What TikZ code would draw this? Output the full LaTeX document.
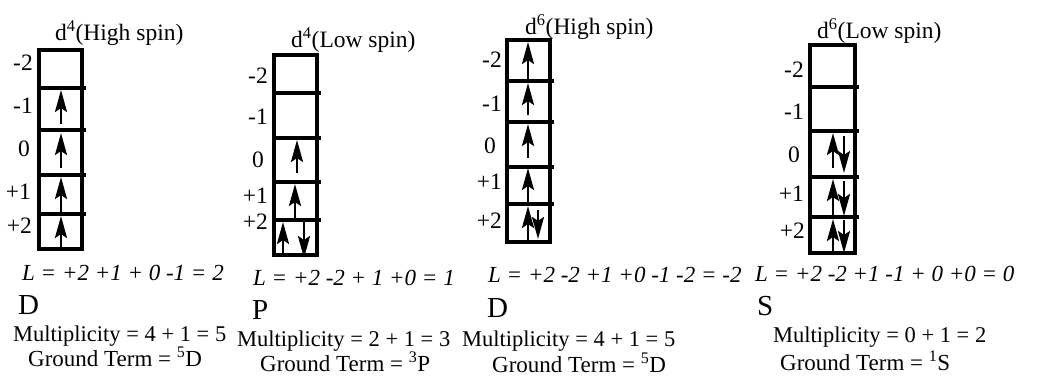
\documentclass[tikz,border=0pt]{standalone}
\usepackage{fontspec}
\setmainfont{Liberation Serif}
\usetikzlibrary{arrows.meta}
\tikzset{
  boxline/.style={line width=3.2pt},
  spin/.style={line width=2.8pt, -{Stealth[length=22pt,width=12pt,inset=4pt]}},
  txt/.style={anchor=base west, inner sep=0pt},
  ttl/.style={txt, font=\fontsize{23.5}{27}\selectfont},
  lbl/.style={anchor=base east, inner sep=0pt, font=\fontsize{23.5}{27}\selectfont},
  eqn/.style={txt, font=\fontsize{23}{26}\selectfont\itshape},
  term/.style={txt, font=\fontsize{29}{32}\selectfont},
  mult/.style={txt, font=\fontsize{22.5}{26}\selectfont},
  gterm/.style={txt, font=\fontsize{23}{26}\selectfont},
}
\begin{document}
\begin{tikzpicture}[x=1pt,y=-1pt]
\useasboundingbox (0,0) rectangle (1053,379);

% ---------- Box 1 ----------
\draw[boxline] (39,50) rectangle (82,249);
\foreach \y in {88,130,175,214} \draw[boxline] (37,\y) -- (86,\y);
\draw[spin] (61,124) -- (61,90);
\draw[spin] (61,168) -- (61,133);
\draw[spin] (61,214) -- (61,177);
\draw[spin] (61,249) -- (61,216);
\node[ttl] (t1) at (55,41) {d\textsuperscript{4}(High spin)};
\node[lbl] (a1) at (33,71) {-2};
\node[lbl] (a2) at (33,114) {-1};
\node[lbl] (a3) at (30,157) {0};
\node[lbl] (a4) at (31,200) {+1};
\node[lbl] (a5) at (32,234) {+2};
\node[eqn] (l1) at (22,281) {L = +2 +1 + 0 -1 = 2};
\node[term] (s1) at (18,315) {D};
\node[mult] (m1) at (13,342) {Multiplicity = 4 + 1 = 5};
\node[gterm] (g1) at (28,367) {Ground Term = \textsuperscript{5}D};

% ---------- Box 2 ----------
\draw[boxline] (274,55) rectangle (317,255);
\foreach \y in {93,138,182,220} \draw[boxline] (272,\y) -- (321,\y);
\draw[spin] (297,173) -- (297,140);
\draw[spin] (295,220) -- (295,184);
\draw[spin] (283,255) -- (283,222);
\draw[spin] (304,220) -- (304,258);
\node[ttl] (t2) at (291,48) {d\textsuperscript{4}(Low spin)};
\node[lbl] (b1) at (268,84) {-2};
\node[lbl] (b2) at (268,125) {-1};
\node[lbl] (b3) at (264,168) {0};
\node[lbl] (b4) at (268,204) {+1};
\node[lbl] (b5) at (268,230) {+2};
\node[eqn] (l2) at (253,286) {L = +2 -2 + 1 +0 = 1};
\node[term] (s2) at (252,320) {P};
\node[mult] (m2) at (237,347) {Multiplicity = 2 + 1 = 3};
\node[gterm] (g2) at (260,372) {Ground Term = \textsuperscript{3}P};

% ---------- Box 3 ----------
\draw[boxline] (507,40) rectangle (550,242);
\foreach \y in {81,122,167,204} \draw[boxline] (505,\y) -- (554,\y);
\draw[spin] (528,81) -- (528,42);
\draw[spin] (528,115) -- (528,83);
\draw[spin] (528,158) -- (528,124);
\draw[spin] (528,204) -- (528,168);
\draw[spin] (528,242) -- (528,206);
\draw[spin] (538,210) -- (538,239);
\node[ttl] (t3) at (525,35) {d\textsuperscript{6}(High spin)};
\node[lbl] (c1) at (502,68) {-2};
\node[lbl] (c2) at (502,112) {-1};
\node[lbl] (c3) at (496,154) {0};
\node[lbl] (c4) at (502,190) {+1};
\node[lbl] (c5) at (502,229) {+2};
\node[eqn] (l3) at (488,283) {L = +2 -2 +1 +0 -1 -2 = -2};
\node[term] (s3) at (487,318) {D};
\node[mult] (m3) at (462,347) {Multiplicity = 4 + 1 = 5};
\node[gterm] (g3) at (492,373) {Ground Term = \textsuperscript{5}D};

% ---------- Box 4 ----------
\draw[boxline] (810,45) rectangle (855,253);
\foreach \y in {87,131,177,217} \draw[boxline] (808,\y) -- (859,\y);
\draw[spin] (833,168) -- (833,133);
\draw[spin] (844,136) -- (844,173);
\draw[spin] (833,217) -- (833,179);
\draw[spin] (844,181) -- (844,216);
\draw[spin] (833,253) -- (833,219);
\draw[spin] (844,220) -- (844,253);
\node[ttl] (t4) at (817,39) {d\textsuperscript{6}(Low spin)};
\node[lbl] (d1) at (804,78) {-2};
\node[lbl] (d2) at (804,120) {-1};
\node[lbl] (d3) at (800,163) {0};
\node[lbl] (d4) at (804,202) {+1};
\node[lbl] (d5) at (805,239) {+2};
\node[eqn] (l4) at (755,282) {L = +2 -2 +1 -1 + 0 +0 = 0};
\node[term] (s4) at (757,316) {S};
\node[mult] (m4) at (773,343) {Multiplicity = 0 + 1 = 2};
\node[gterm] (g4) at (780,371) {Ground Term = \textsuperscript{1}S};
\end{tikzpicture}
\end{document}
